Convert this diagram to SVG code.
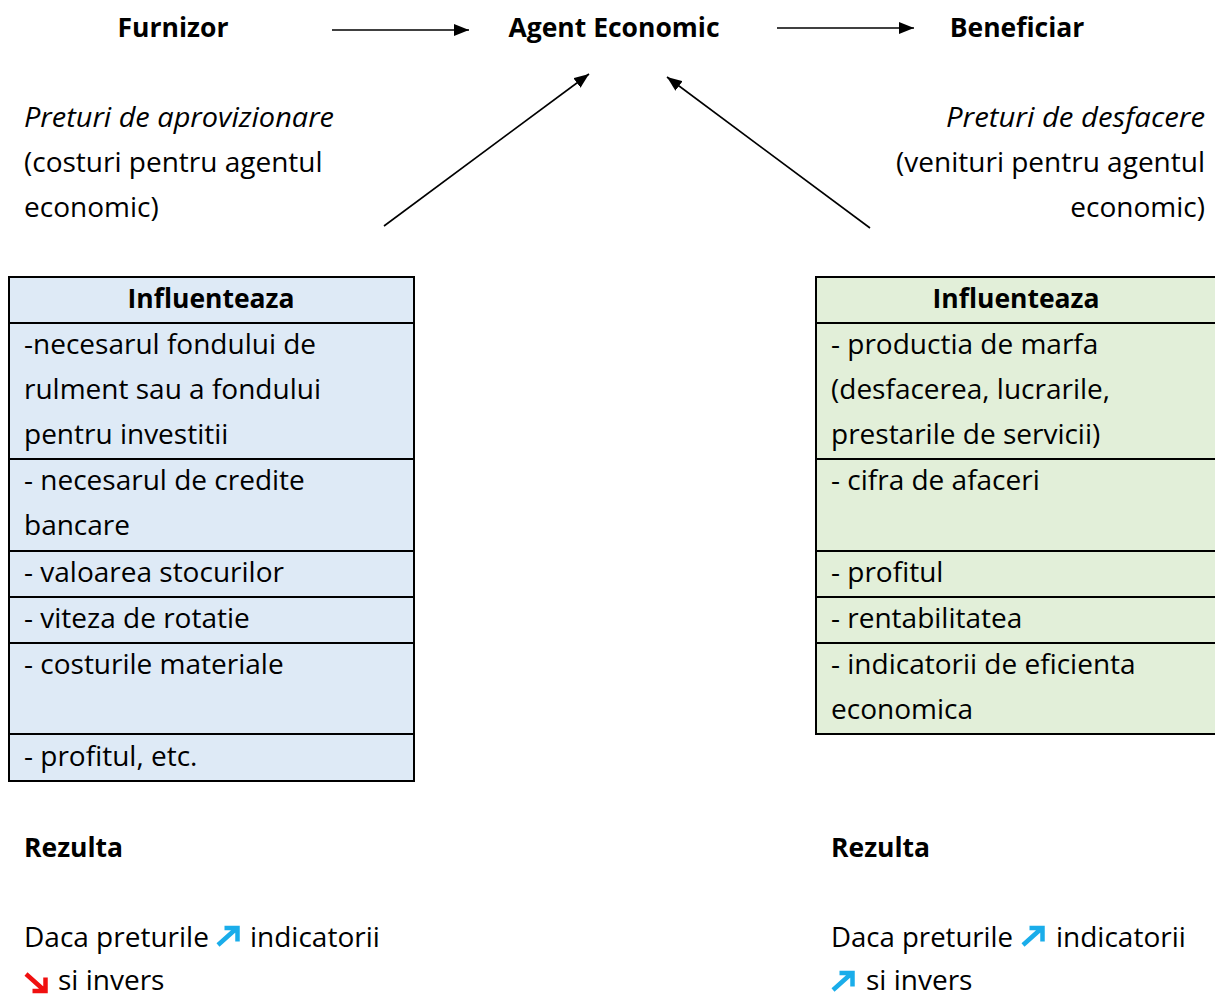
<svg xmlns="http://www.w3.org/2000/svg" width="1215" height="996" viewBox="0 0 1215 996">
<style>
text{font-family:"Open Sans","Liberation Sans",sans-serif;font-size:28px;fill:#000}
.b{font-weight:bold;font-size:26.5px}
.i{font-style:italic}
.m{text-anchor:middle}
.e{text-anchor:end}
.conn{stroke:#000;stroke-width:1.6;fill:none}
.tb{stroke:#000;stroke-width:2;fill:none}
.blue{fill:#DEEAF6}
.green{fill:#E2EFD9}
.up{stroke:#1AADEA;stroke-width:4.5;fill:none;stroke-linecap:butt}
.down{stroke:#F01010;stroke-width:4.5;fill:none;stroke-linecap:butt}
</style>
<defs>
<marker id="ah" viewBox="0 0 10 10" refX="10" refY="5" markerWidth="15" markerHeight="12" markerUnits="userSpaceOnUse" orient="auto" preserveAspectRatio="none">
<path d="M0,0 L10,5 L0,10 Z" fill="#000"/>
</marker>
</defs>
<g id="connectors">
<line class="conn" x1="332" y1="30" x2="469" y2="30" marker-end="url(#ah)"/>
<line class="conn" x1="777" y1="28" x2="914" y2="28" marker-end="url(#ah)"/>
<line class="conn" x1="384" y1="226" x2="589" y2="74" marker-end="url(#ah)"/>
<line class="conn" x1="870" y1="228" x2="667" y2="77" marker-end="url(#ah)"/>
</g>
<g id="furnizor"><text class="b m" x="173" y="37">Furnizor</text></g>
<g id="agent"><text class="b m" x="614" y="37">Agent Economic</text></g>
<g id="beneficiar"><text class="b m" x="1017" y="37">Beneficiar</text></g>
<g id="preturi-aprov">
<text class="i" x="24" y="127" textLength="310" lengthAdjust="spacingAndGlyphs">Preturi de aprovizionare</text>
<text x="24" y="172">(costuri pentru agentul</text>
<text x="24" y="217">economic)</text>
</g>
<g id="preturi-desf">
<text class="i" x="946" y="127" textLength="259" lengthAdjust="spacingAndGlyphs">Preturi de desfacere</text>
<text class="e" x="1205" y="172">(venituri pentru agentul</text>
<text class="e" x="1205" y="217">economic)</text>
</g>
<g id="tabel-stanga">
<rect class="blue" x="9" y="277" width="405" height="504"/>
<rect class="tb" x="9" y="277" width="405" height="504"/>
<path class="tb" d="M9,323H414M9,459H414M9,551H414M9,597H414M9,643H414M9,734H414"/>
<text class="b m" x="211" y="308">Influenteaza</text>
<text x="24" y="354">-necesarul fondului de</text>
<text x="24" y="399">rulment sau a fondului</text>
<text x="24" y="444">pentru investitii</text>
<text x="24" y="490">- necesarul de credite</text>
<text x="24" y="535">bancare</text>
<text x="24" y="582">- valoarea stocurilor</text>
<text x="24" y="628">- viteza de rotatie</text>
<text x="24" y="674">- costurile materiale</text>
<text x="24" y="766">- profitul, etc.</text>
</g>
<g id="tabel-dreapta">
<rect class="green" x="816" y="277" width="405" height="457"/>
<rect class="tb" x="816" y="277" width="405" height="457"/>
<path class="tb" d="M816,323H1221M816,459H1221M816,551H1221M816,597H1221M816,643H1221"/>
<text class="b m" x="1016" y="308">Influenteaza</text>
<text x="831" y="354">- productia de marfa</text>
<text x="831" y="399">(desfacerea, lucrarile,</text>
<text x="831" y="444">prestarile de servicii)</text>
<text x="831" y="490">- cifra de afaceri</text>
<text x="831" y="582">- profitul</text>
<text x="831" y="628">- rentabilitatea</text>
<text x="831" y="674">- indicatorii de eficienta</text>
<text x="831" y="719">economica</text>
</g>
<g id="rezulta-stanga">
<text class="b" x="24" y="857">Rezulta</text>
<text x="24" y="947">Daca preturile</text>
<path class="up" d="M218,945L237,928M224.5,928H237.5V941.5"/>
<text x="250" y="947">indicatorii</text>
<path class="down" d="M26,974L45,991M32.5,991H45.5V977.5"/>
<text x="58" y="990">si invers</text>
</g>
<g id="rezulta-dreapta">
<text class="b" x="831" y="857">Rezulta</text>
<text x="831" y="947" textLength="182" lengthAdjust="spacingAndGlyphs">Daca preturile</text>
<path class="up" d="M1023,945L1042,928M1029.5,928H1042.5V941.5"/>
<text x="1056" y="947">indicatorii</text>
<path class="up" d="M833,990L852,973M839.5,973H852.5V986.5"/>
<text x="866" y="990">si invers</text>
</g>
</svg>
